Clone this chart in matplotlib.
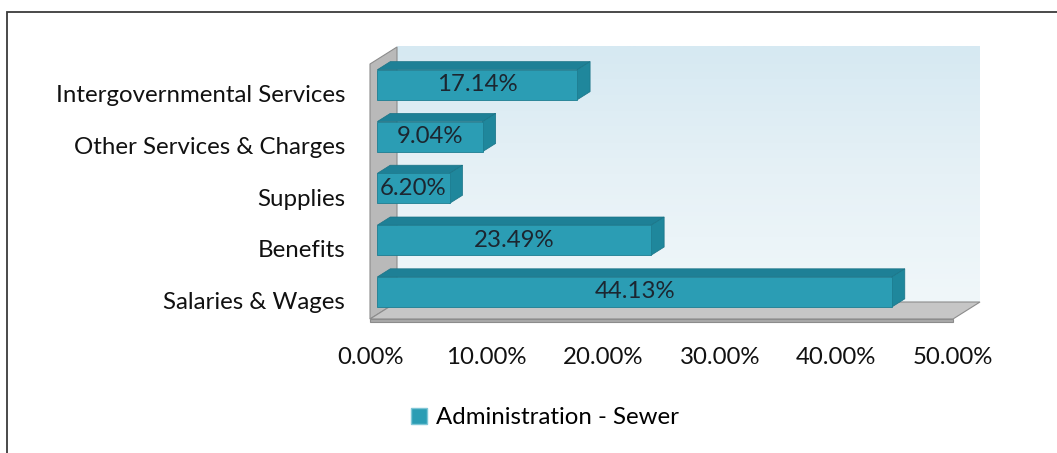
import matplotlib.pyplot as plt
import numpy as np
from matplotlib.patches import Polygon, Rectangle, Patch
from matplotlib.colors import LinearSegmentedColormap

categories = ['Salaries & Wages', 'Benefits', 'Supplies',
              'Other Services & Charges', 'Intergovernmental Services']
shares = [44.13, 23.49, 6.20, 9.04, 17.14]
x_ticks = [0, 10, 20, 30, 40, 50]
x_tick_labels = ['0.00%', '10.00%', '20.00%', '30.00%', '40.00%', '50.00%']
series_name = 'Administration - Sewer'

FONT = 'Lato'
FS = 17.3
plt.rcParams['font.family'] = [FONT, 'DejaVu Sans']

W, H = 1057, 453
fig = plt.figure(figsize=(W / 100, H / 100), dpi=100)

# front plane of the 3d box, in pixels
px_left, px_right, px_top, px_bottom = 370, 953, 64, 319
ax = fig.add_axes([px_left / W, 1 - px_bottom / H,
                   (px_right - px_left) / W, (px_bottom - px_top) / H])
ylo, yhi = -0.433, 4.49
ax.set_xlim(0, 50)
ax.set_ylim(ylo, yhi)

# depth of the box in data units
ddx = 27 / ((px_right - px_left) / 50)
ddy = 17 / ((px_bottom - px_top) / (yhi - ylo))

# back wall with gradient
grad = np.linspace(0, 1, 100).reshape(-1, 1)
cmap = LinearSegmentedColormap.from_list('wall', ['#f0f7fa', '#e6f1f6', '#d6e9f2'])
ax.imshow(grad, extent=[ddx, 50 + ddx, ylo + ddy, yhi + ddy], origin='lower',
          cmap=cmap, aspect='auto', clip_on=False, zorder=0)

wall_kw = dict(closed=True, clip_on=False, edgecolor='#8c8c8c', lw=0.8)
# left wall
ax.add_patch(Polygon([(0, ylo), (0, yhi), (ddx, yhi + ddy), (ddx, ylo + ddy)],
                     facecolor='#b9b9b9', zorder=1, **wall_kw))
# floor
ax.add_patch(Polygon([(0, ylo), (50, ylo), (50 + ddx, ylo + ddy), (ddx, ylo + ddy)],
                     facecolor='#c6c6c6', zorder=1, **wall_kw))
# floor front edge
ax.add_patch(Polygon([(0, ylo), (50, ylo), (50, ylo - 0.05), (0, ylo - 0.05)],
                     facecolor='#a9a9a9', zorder=1, **wall_kw))

f_front = 0.27
f_back = 0.75
bar_h = 0.58
front_col = '#2b9db4'
top_col = '#1e8096'
end_col = '#1f879c'

ypos = np.arange(len(categories))
x0 = f_front * ddx
yshift = f_front * ddy
ax.barh(ypos + yshift, shares, left=x0, height=bar_h, color=front_col,
        edgecolor='#1d7d91', lw=0.6, zorder=3, clip_on=False)
bdx = (f_back - f_front) * ddx
bdy = (f_back - f_front) * ddy
for y, v in zip(ypos, shares):
    yt = y + yshift + bar_h / 2
    yb = y + yshift - bar_h / 2
    ax.add_patch(Polygon([(x0, yt), (x0 + v, yt), (x0 + v + bdx, yt + bdy), (x0 + bdx, yt + bdy)],
                         closed=True, facecolor=top_col, edgecolor='#1a7386', lw=0.5,
                         zorder=2.9, clip_on=False))
    ax.add_patch(Polygon([(x0 + v, yb), (x0 + v, yt), (x0 + v + bdx, yt + bdy), (x0 + v + bdx, yb + bdy)],
                         closed=True, facecolor=end_col, edgecolor='#1a7386', lw=0.5,
                         zorder=2.9, clip_on=False))
    ax.text(x0 + v / 2, y + yshift, f'{v:.2f}%', ha='center', va='center',
            fontsize=FS, color='#1c2630', zorder=4)

ax.set_xticks(x_ticks)
ax.set_xticklabels(x_tick_labels)
ax.set_yticks(ypos - 0.08)
ax.set_yticklabels(categories)
ax.tick_params(axis='x', length=0, pad=20, labelsize=FS, labelcolor='#111111')
ax.tick_params(axis='y', length=0, pad=18, labelsize=FS, labelcolor='#111111')
for s in ax.spines.values():
    s.set_visible(False)
ax.set_facecolor('none')

fig.legend(handles=[Patch(facecolor=front_col, edgecolor='#7fc6d6', label=series_name)],
           loc='center', bbox_to_anchor=(545 / W, 1 - 418 / H), frameon=False,
           fontsize=FS, handlelength=0.65, handleheight=0.65, handletextpad=0.4)

# outer frame
fig.patches.append(Rectangle((7 / W, -0.05), 1.0, 1 - 12 / H + 0.05, transform=fig.transFigure,
                             fill=False, edgecolor='#3a3a3a', lw=1.3))

fig.savefig('out.png', dpi=100)
